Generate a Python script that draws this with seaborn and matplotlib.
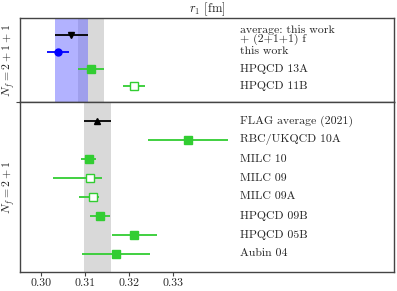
import numpy as np
import matplotlib
matplotlib.use('Agg')
import matplotlib.pyplot as plt
import seaborn as sns

# Nf = 2+1+1 panel
top_labels = ['average: this work\n+ (2+1+1) f', 'this work', 'HPQCD 13A', 'HPQCD 11B']
top_vals = [0.3069, 0.3039, 0.3113, 0.3211]
top_err_lo = [0.0037, 0.0025, 0.0030, 0.0026]
top_err_hi = [0.0037, 0.0025, 0.0030, 0.0026]
top_markers = ['v', 'o', 's', 's']
top_colors = ['black', 'blue', 'limegreen', 'limegreen']
top_filled = [True, True, True, False]
top_band = (0.3083, 0.3143)   # gray band (2+1+1 FLAG)
blue_band = (0.3032, 0.3106)  # average band

# Nf = 2+1 panel
bot_labels = ['FLAG average (2021)', 'RBC/UKQCD 10A', 'MILC 10', 'MILC 09',
              'MILC 09A', 'HPQCD 09B', 'HPQCD 05B', 'Aubin 04']
bot_vals = [0.3128, 0.3333, 0.3108, 0.3110, 0.3118, 0.3134, 0.3212, 0.3171]
bot_err_lo = [0.0030, 0.0091, 0.0017, 0.0082, 0.0032, 0.0023, 0.0050, 0.0077]
bot_err_hi = [0.0030, 0.0091, 0.0017, 0.0029, 0.0014, 0.0023, 0.0051, 0.0077]
bot_markers = ['^', 's', 's', 's', 's', 's', 's', 's']
bot_colors = ['black'] + ['limegreen'] * 7
bot_filled = [True, True, True, False, False, True, True, True]
bot_band = (0.3098, 0.3158)

xticks = [0.30, 0.31, 0.32, 0.33]

sns.set_theme(style='white')
plt.rcParams['font.family'] = ['cmr10', 'DejaVu Serif']
plt.rcParams['mathtext.fontset'] = 'cm'
plt.rcParams['axes.formatter.use_mathtext'] = True

fig = plt.figure(figsize=(3.97, 2.91), dpi=100)
ax1 = fig.add_axes([0.0504, 0.6478, 0.942, 0.2902])
ax2 = fig.add_axes([0.0504, 0.0653, 0.942, 0.5825])

xlim = (0.2952, 0.3802)
label_x = 0.3452
fs = 8.5


def draw(ax, labels, vals, lo, hi, markers, colors, filled):
    for i in range(len(vals)):
        ax.errorbar(vals[i], i, xerr=[[lo[i]], [hi[i]]], fmt=markers[i],
                    color=colors[i], ms=5.5 if markers[i] == 's' else 5,
                    mfc=colors[i] if filled[i] else 'white', mec=colors[i],
                    mew=1.0, elinewidth=1.3, capsize=0, zorder=3)
        ax.text(label_x, i, labels[i], fontsize=fs, va='center', ha='left',
                linespacing=0.85)
    ax.set_xlim(*xlim)
    ax.set_ylim(len(vals) - 1 + 0.97, -0.97)
    ax.set_yticks([])
    for s in ax.spines.values():
        s.set_color('#444444')
        s.set_linewidth(1.0)


ax1.axvspan(*top_band, color='#d9d9d9', lw=0, zorder=0)
ax1.axvspan(*blue_band, color='#6666ff', alpha=0.5, lw=0, zorder=1)
draw(ax1, top_labels, top_vals, top_err_lo, top_err_hi, top_markers, top_colors, top_filled)
ax1.set_xticks([])
ax1.set_yticks([len(top_vals) - 1 + 0.97])
ax1.set_yticklabels([''])
ax1.tick_params(axis='y', direction='out', length=3, width=0.8, color='#444444', left=True)
ax1.set_title('$r_1$ [fm]', fontsize=9, pad=3)

ax2.axvspan(*bot_band, color='#d9d9d9', lw=0, zorder=0)
draw(ax2, bot_labels, bot_vals, bot_err_lo, bot_err_hi, bot_markers, bot_colors, bot_filled)
ax2.set_xticks(xticks)
ax2.set_xticklabels(['%.2f' % t for t in xticks], fontsize=fs)
ax2.tick_params(axis='x', direction='out', length=3, width=0.8, color='#444444', pad=2, bottom=True)

# panel labels on the left
fig.text(9 / 397, 0.6478 + 0.2902 / 2, '$N_f = 2+1+1$', rotation=90,
         ha='center', va='center', fontsize=fs)
fig.text(9 / 397, 0.0653 + 0.5825 / 2, '$N_f = 2+1$', rotation=90,
         ha='center', va='center', fontsize=fs)

fig.savefig('out.png', dpi=100)
